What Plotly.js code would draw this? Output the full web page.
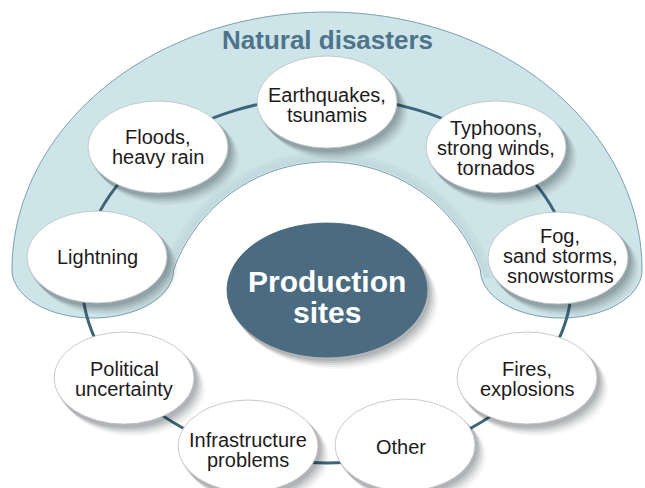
<!DOCTYPE html>
<html>
<head>
<meta charset="utf-8">
<script src="https://cdn.plot.ly/plotly-3.0.1.min.js"></script>
<style>html,body{margin:0;padding:0;background:#fff;}#chart{width:645px;height:488px;}</style>
</head>
<body>
<div id="chart"></div>
<script>
// ---- content ----
const groupLabel = "Natural disasters";
const centerLabel = ["Production", "sites"];
const nodeLabels = [
  "Earthquakes,\ntsunamis",
  "Typhoons,\nstrong winds,\ntornados",
  "Fog,\nsand storms,\nsnowstorms",
  "Fires,\nexplosions",
  "Other",
  "Infrastructure\nproblems",
  "Political\nuncertainty",
  "Lightning",
  "Floods,\nheavy rain"
];
// ---- layout (pixel-space positions of the diagram nodes) ----
const nodeX = [327, 496, 558, 527, 405, 248, 124, 97, 158];
const nodeY = [102, 147, 258, 378, 445, 446, 378, 257, 147];
const textDX = [0, 0, 2, 0, -4, 0, 0, 0, 0];
const textDY = [3, 1, -2, 1, 2, 4, 1, 0, 0];

const W = 645, H = 488;
const shapes = [];
const annotations = [];

const IC = [327, 325], IR = 163, Y_END = 270;
const TH0 = Math.asin((IC[1] - Y_END) / IR);

// band (natural disasters) polygon
function bandPath() {
  const pts = [];
  const oc = [327, 270], A = 315, B = 258;
  for (let k = 0; k <= 120; k++) {
    const t = Math.PI - Math.PI * k / 120;
    pts.push([oc[0] + A * Math.cos(t), oc[1] - B * Math.sin(t)]);
  }
  const dxi = Math.sqrt(IR * IR - (IC[1] - Y_END) * (IC[1] - Y_END));
  const xiR = IC[0] + dxi, xiL = IC[0] - dxi;
  const xoR = oc[0] + A, xoL = oc[0] - A;
  let cx = (xoR + xiR) / 2, rx = (xoR - xiR) / 2, ry = 48;
  for (let k = 1; k <= 40; k++) {
    const s = Math.PI * k / 40;
    pts.push([cx + rx * Math.cos(s), Y_END + ry * Math.sin(s)]);
  }
  for (let k = 1; k <= 100; k++) {
    const th = TH0 + (Math.PI - 2 * TH0) * k / 100;
    pts.push([IC[0] + IR * Math.cos(th), IC[1] - IR * Math.sin(th)]);
  }
  cx = (xoL + xiL) / 2; rx = (xiL - xoL) / 2;
  for (let k = 1; k <= 40; k++) {
    const s = Math.PI * k / 40;
    pts.push([cx + rx * Math.cos(s), Y_END + ry * Math.sin(s)]);
  }
  return "M " + pts.map(p => p[0].toFixed(1) + "," + p[1].toFixed(1)).join(" L ") + " Z";
}

function innerArc(r) {
  const pts = [];
  const a0 = Math.asin(Math.min(1, (IC[1] - Y_END - 8) / r));
  for (let k = 0; k <= 80; k++) {
    const th = a0 + (Math.PI - 2 * a0) * k / 80;
    pts.push([IC[0] + r * Math.cos(th), IC[1] - r * Math.sin(th)]);
  }
  return "M " + pts.map(p => p[0].toFixed(1) + "," + p[1].toFixed(1)).join(" L ");
}

shapes.push({type: "path", path: bandPath(), xref: "x", yref: "y",
  fillcolor: "#cde4e8", line: {color: "#5f8b9c", width: 0.8}, layer: "above"});
// soft shading on the band along the inner edge
[[3, 0.07], [6, 0.05], [9, 0.03]].forEach(s => shapes.push({type: "path", path: innerArc(IR + s[0]),
  xref: "x", yref: "y", line: {color: "rgba(40,70,85," + s[1] + ")", width: 3}, layer: "above"}));

// connecting ring
shapes.push({type: "circle", xref: "x", yref: "y", x0: 327 - 245, x1: 327 + 245, y0: 280 - 183, y1: 280 + 183,
  fillcolor: "rgba(0,0,0,0)", line: {color: "#3c6579", width: 3}, layer: "above"});

function shadowed(cx, cy, rx, ry, fill, line) {
  const offs = [[10, 11, 0.035], [8, 9, 0.06], [6, 7, 0.08], [4, 5, 0.10], [2, 3, 0.10]];
  offs.forEach(o => shapes.push({type: "circle", xref: "x", yref: "y",
    x0: cx - rx + o[0] - 1, x1: cx + rx + o[0] + 1, y0: cy - ry + o[1] - 1, y1: cy + ry + o[1] + 1,
    fillcolor: "rgba(20,30,35," + o[2] + ")", line: {width: 0}, layer: "above"}));
  shapes.push({type: "circle", xref: "x", yref: "y", x0: cx - rx, x1: cx + rx, y0: cy - ry, y1: cy + ry,
    fillcolor: fill, line: line, layer: "above"});
}

// center
shadowed(327, 290, 100, 67, "#4b6b81", {color: "#45657a", width: 0.8});
centerLabel.forEach((t, i) => annotations.push({x: 327, y: 281.5 + i * 31, xref: "x", yref: "y",
  text: "<b>" + t + "</b>", showarrow: false, xanchor: "center", yanchor: "middle",
  font: {family: "Liberation Sans, Arial, sans-serif", size: 30, color: "#ffffff"}}));

// nodes
nodeLabels.forEach((lab, j) => {
  shadowed(nodeX[j], nodeY[j], 70, 46, "#ffffff", {color: "#b9bec1", width: 0.8});
  const lines = lab.split("\n");
  const n = lines.length;
  lines.forEach((t, i) => annotations.push({
    x: nodeX[j] + textDX[j], y: nodeY[j] + textDY[j] + (i - (n - 1) / 2) * 20,
    xref: "x", yref: "y", text: t, showarrow: false, xanchor: "center", yanchor: "middle",
    font: {family: "Liberation Sans, Arial, sans-serif", size: 20, color: "#1e1b1c"}}));
});

annotations.push({x: 327, y: 40, xref: "x", yref: "y", text: "<b>" + groupLabel + "</b>",
  showarrow: false, xanchor: "center", yanchor: "middle",
  font: {family: "Liberation Sans, Arial, sans-serif", size: 26, color: "#4e738a"}});

const layout = {
  width: W, height: H,
  margin: {l: 0, r: 0, t: 0, b: 0, pad: 0},
  paper_bgcolor: "#ffffff", plot_bgcolor: "#ffffff",
  xaxis: {range: [0, W], visible: false, fixedrange: true},
  yaxis: {range: [H, 0], visible: false, fixedrange: true},
  showlegend: false,
  shapes: shapes,
  annotations: annotations
};
Plotly.newPlot("chart", [], layout, {displayModeBar: false, staticPlot: true});
</script>
</body>
</html>
